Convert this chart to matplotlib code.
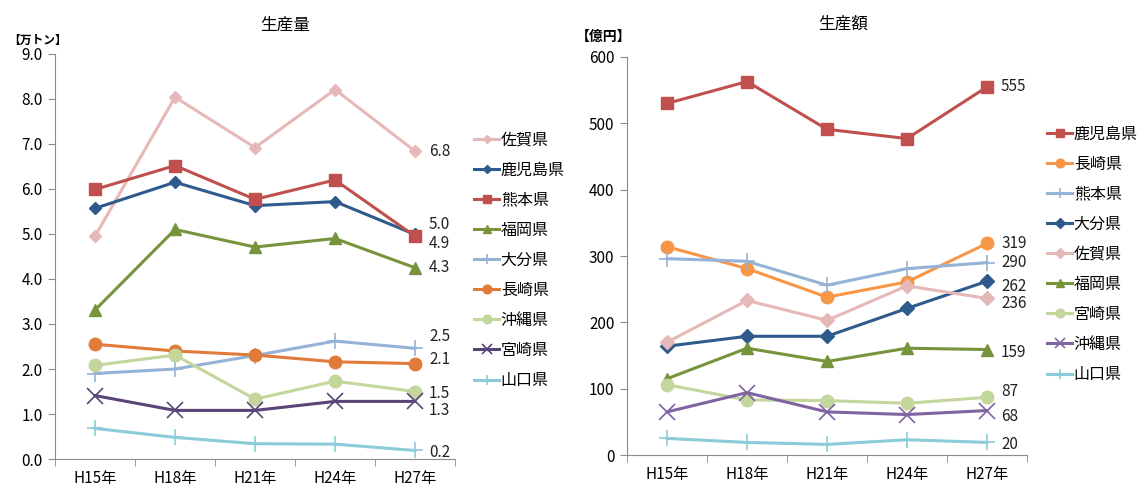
import matplotlib
matplotlib.use("Agg")
import matplotlib.pyplot as plt

plt.rcParams["font.family"] = ["Noto Sans CJK JP", "DejaVu Sans"]

years = ["H15年", "H18年", "H21年", "H24年", "H27年"]

# 生産量 (万トン)
vol_names = ["佐賀県", "鹿児島県", "熊本県", "福岡県", "大分県", "長崎県", "沖縄県", "宮崎県", "山口県"]
vol_saga = [4.95, 8.04, 6.92, 8.21, 6.84]
vol_kagoshima = [5.57, 6.15, 5.63, 5.72, 4.99]
vol_kumamoto = [5.99, 6.52, 5.77, 6.20, 4.95]
vol_fukuoka = [3.31, 5.10, 4.71, 4.90, 4.25]
vol_oita = [1.90, 2.00, 2.30, 2.62, 2.46]
vol_nagasaki = [2.55, 2.40, 2.31, 2.16, 2.12]
vol_okinawa = [2.08, 2.31, 1.33, 1.73, 1.50]
vol_miyazaki = [1.41, 1.08, 1.08, 1.28, 1.28]
vol_yamaguchi = [0.68, 0.48, 0.34, 0.33, 0.19]
vol_end_labels = ["6.8", "5.0", "4.9", "4.3", "2.5", "2.1", "1.5", "1.3", "0.2"]

# 生産額 (億円)
val_names = ["鹿児島県", "長崎県", "熊本県", "大分県", "佐賀県", "福岡県", "宮崎県", "沖縄県", "山口県"]
val_kagoshima = [530, 563, 491, 477, 555]
val_nagasaki = [314, 281, 238, 261, 319]
val_kumamoto = [296, 292, 256, 281, 290]
val_oita = [164, 179, 179, 221, 262]
val_saga = [170, 233, 203, 255, 236]
val_fukuoka = [115, 161, 141, 161, 159]
val_miyazaki = [106, 83, 82, 78, 87]
val_okinawa = [65, 94, 65, 61, 67]
val_yamaguchi = [25, 19, 16, 23, 19]
val_end_labels = ["555", "319", "290", "262", "236", "159", "87", "68", "20"]

# styles: (color, marker, markersize)
vol_styles = [
    ("#E6B9B8", "D", 6),
    ("#2E5A8C", "D", 6),
    ("#C0504D", "s", 8),
    ("#77933C", "^", 9),
    ("#95B3D7", "+", 11),
    ("#E07B39", "o", 9),
    ("#C3D69B", "o", 9),
    ("#5A4579", "x", 11),
    ("#8CCBD8", "+", 11),
]
val_styles = [
    ("#C0504D", "s", 9),
    ("#F79646", "o", 9),
    ("#95B3D7", "+", 11),
    ("#2E5A8C", "D", 7),
    ("#E6B9B8", "D", 7),
    ("#77933C", "^", 9),
    ("#C3D69B", "o", 9),
    ("#8064A2", "x", 11),
    ("#8CCBD8", "+", 11),
]
# label offsets in pixels (dx, dy) so stacked labels do not collide
vol_label_offsets = [(14, 0), (14, 10), (14, -7), (14, 0), (14, 12), (14, 4), (14, -2), (14, -9), (14, -2)]
val_label_offsets = [(14, 0), (14, 0), (14, 0), (14, -5), (14, -5), (14, -3), (14, 6), (14, -6), (14, -2)]


def draw_panel(ax, names, series, styles, end_labels, offsets, ymax, ystep, fmt):
    x = list(range(len(years)))
    for name, vals, (col, mk, ms), lab, (dx, dy) in zip(names, series, styles, end_labels, offsets):
        mew = 1.2 if mk in ("+", "x") else 1
        ax.plot(x, vals, color=col, marker=mk, markersize=ms, linewidth=2.2,
                markeredgewidth=mew, label=name)
        ax.annotate(lab, xy=(x[-1], vals[-1]), xytext=(dx, dy), textcoords="offset pixels",
                    fontsize=11, color="#222222", ha="left", va="center")
    ax.set_xlim(-0.5, len(years) - 0.5)
    ax.set_ylim(0, ymax)
    ax.set_xticks(x)
    ax.set_xticklabels(years)
    ax.set_xticks([i + 0.5 for i in range(-1, len(years))], minor=True)
    ax.set_yticks([i * ystep for i in range(int(round(ymax / ystep)) + 1)])
    ax.yaxis.set_major_formatter(plt.FuncFormatter(lambda v, p: fmt.format(v)))
    for s in ("top", "right"):
        ax.spines[s].set_visible(False)
    for s in ("left", "bottom"):
        ax.spines[s].set_color("#8C8C8C")
    ax.tick_params(axis="x", which="major", length=0, labelsize=11, pad=8)
    ax.tick_params(axis="x", which="minor", length=5, color="#8C8C8C", direction="out")
    ax.tick_params(axis="y", length=5, color="#8C8C8C", labelsize=11, pad=4)


fig = plt.figure(figsize=(11.39, 4.88), dpi=100)
ax1 = fig.add_axes([0.0483, 0.0594, 0.3512, 0.830])
ax2 = fig.add_axes([0.5505, 0.0676, 0.3512, 0.8156])

draw_panel(ax1, vol_names,
           [vol_saga, vol_kagoshima, vol_kumamoto, vol_fukuoka, vol_oita,
            vol_nagasaki, vol_okinawa, vol_miyazaki, vol_yamaguchi],
           vol_styles, vol_end_labels, vol_label_offsets, 9.0, 1.0, "{:.1f}")
draw_panel(ax2, val_names,
           [val_kagoshima, val_nagasaki, val_kumamoto, val_oita, val_saga,
            val_fukuoka, val_miyazaki, val_okinawa, val_yamaguchi],
           val_styles, val_end_labels, val_label_offsets, 600, 100, "{:.0f}")

leg_kw = dict(frameon=False, fontsize=11.5, handlelength=1.55, handletextpad=0.1,
              labelspacing=0.82, borderaxespad=0, markerscale=0.7)
ax1.legend(loc="upper left", bbox_to_anchor=(468 / 1139, 1 - 125 / 488),
           bbox_transform=fig.transFigure, **leg_kw)
ax2.legend(loc="upper left", bbox_to_anchor=(1041 / 1139, 1 - 119 / 488),
           bbox_transform=fig.transFigure, **leg_kw)

fig.text(285 / 1139, 1 - 25 / 488, "生産量", ha="center", va="center", fontsize=12)
fig.text(843 / 1139, 1 - 24 / 488, "生産額", ha="center", va="center", fontsize=12)
fig.text(8 / 1139, 1 - 40 / 488, "【万トン】", ha="left", va="center", fontsize=8.5, fontweight="bold")
fig.text(576 / 1139, 1 - 37 / 488, "【億円】", ha="left", va="center", fontsize=10, fontweight="bold")

fig.savefig("out.png", dpi=100)
